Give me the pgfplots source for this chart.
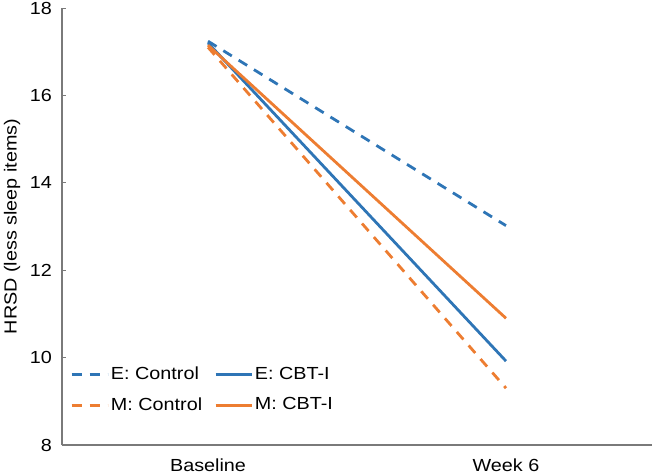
\documentclass[border=0pt]{standalone}
\usepackage{fontspec}
\setmainfont{Liberation Sans}[FakeStretch=1.13]
\usepackage{pgfplots}
\pgfplotsset{compat=1.18}
\definecolor{cblue}{HTML}{2E75B6}
\definecolor{corange}{HTML}{ED7D31}
\definecolor{axgray}{HTML}{7A7A7A}
\newcommand{\chfont}{\fontsize{17.5bp}{21bp}\selectfont}
\begin{document}
\chfont
\begin{tikzpicture}
\path[use as bounding box] (-62bp,-31bp) rectangle (590bp,445bp);
\begin{axis}[
  at={(0,0)}, anchor=south west,
  scale only axis, width=590bp, height=437bp,
  xmin=-0.49, xmax=1.49, ymin=8, ymax=18,
  axis x line=bottom, axis y line=left,
  axis line style={-, draw=axgray, line width=1.1bp},
  xtick={0,1}, xticklabels={Baseline, Week 6},
  major x tick style={draw=none},
  ytick={8,10,12,14,16,18},
  tick align=inside, major tick length=4bp,
  major y tick style={draw=axgray, line width=0.8bp},
  minor tick num=0,
  /pgf/number format/assume math mode=true,
  tick label style={font=\chfont},
  yticklabel style={inner sep=0pt, anchor=east, xshift=-10bp},
  xticklabel style={inner sep=0pt, anchor=center, yshift=-20.5bp},
  ylabel={HRSD (less sleep items)},
  ylabel style={at={(axis description cs:0,0.5)}, anchor=center, yshift=50bp, inner sep=0pt, font=\chfont},
  legend columns=2,
  legend style={draw=none, fill=none, at={(rel axis cs:0,0)}, anchor=south west, xshift=8bp, yshift=30bp, inner sep=0pt, row sep=11bp, font=\chfont,
    /tikz/every even column/.append style={column sep=10bp}},
  legend cell align=left,
  legend image code/.code={\draw[#1] (0bp,0bp) -- (36bp,0bp);},
]
\addplot[cblue, line width=2.8bp, dash pattern=on 10bp off 8bp] coordinates {(0,17.24) (1,13.02)};
\addlegendentry{E: Control}
\addplot[cblue, line width=2.8bp] coordinates {(0,17.2) (1,9.92)};
\addlegendentry{E: CBT-I}
\addplot[corange, line width=2.8bp, dash pattern=on 10bp off 8bp] coordinates {(0,17.1) (1,9.3)};
\addlegendentry{M: Control}
\addplot[corange, line width=2.8bp] coordinates {(0,17.15) (1,10.9)};
\addlegendentry{M: CBT-I}
\end{axis}
\end{tikzpicture}
\end{document}
